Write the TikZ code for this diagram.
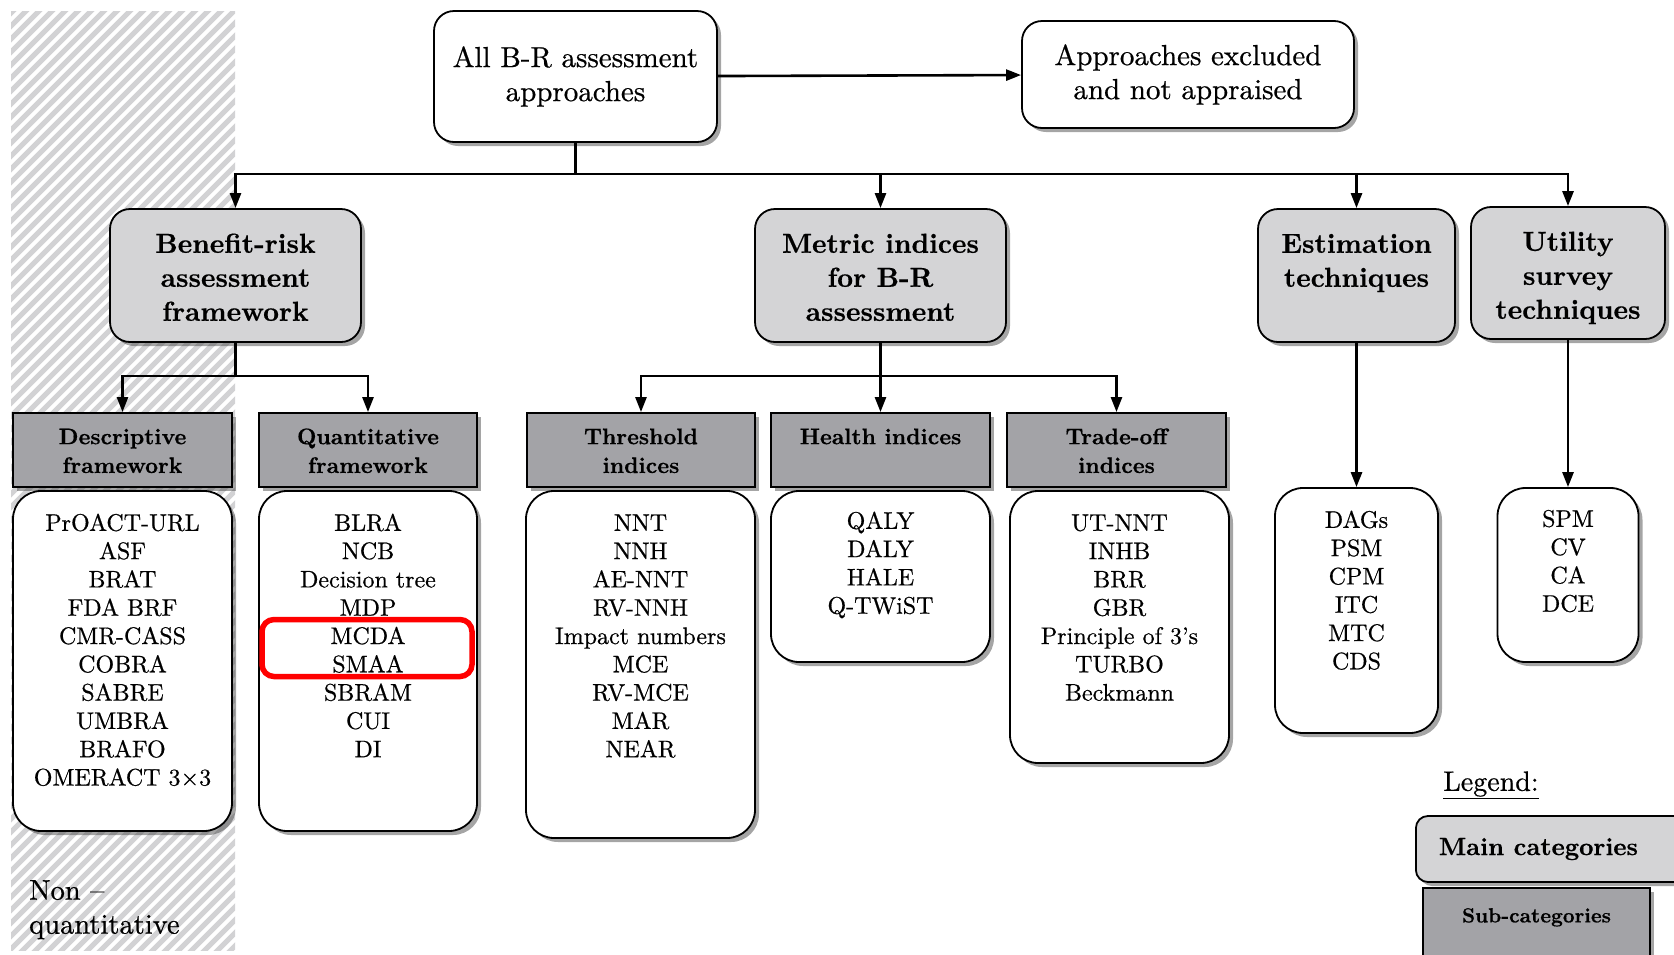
\documentclass[tikz,border=0pt]{standalone}
\usepackage{fontspec}
\setmainfont{lmroman10-regular.otf}[BoldFont=lmroman10-bold.otf,UprightFeatures={FakeBold=0.6},BoldFeatures={FakeBold=0.5}]
\usetikzlibrary{arrows.meta,shadows,calc}
\definecolor{mainfill}{RGB}{212,212,214}
\definecolor{subfill}{RGB}{163,163,167}
\definecolor{hatchgray}{RGB}{210,210,212}
\newcommand{\tbox}[4]{\parbox[c][#2pt][t]{#1pt}{\centering\vspace*{#3pt}\strut#4}}
\begin{document}
\begin{tikzpicture}[x=1pt,y=-1pt,
 shad/.style={drop shadow={shadow xshift=4pt,shadow yshift=-4pt,fill=black!70,opacity=.5}},
 topbox/.style={draw,line width=1.8pt,rounded corners=20pt,fill=white,shad,align=center,inner sep=0pt,font=\fontsize{29}{34}\selectfont},
 mainbox/.style={draw,line width=1.8pt,rounded corners=20pt,fill=mainfill,shad,inner sep=0pt,font=\bfseries\fontsize{27.5}{34}\selectfont},
 subbox/.style={draw,line width=1.8pt,fill=subfill,shad,inner sep=0pt,font=\bfseries\fontsize{22.5}{28.8}\selectfont},
 listbox/.style={draw,line width=1.8pt,rounded corners=28pt,fill=white,shad,inner sep=0pt,font=\fontsize{24}{28.3}\selectfont},
 conn/.style={line width=2.6pt},
 arr/.style={conn,-{Triangle[length=15pt,width=11pt]}},
 hatch/.style={line width=5pt,hatchgray},
]
\useasboundingbox (0,0) rectangle (1674,954);
% hatched non-quantitative region
\begin{scope}
\clip (11,11) rectangle (235,950);
\foreach \i in {-76,...,20} \draw[hatch] (\i*13,960) -- ++(1000,-1000);
\end{scope}
\node[anchor=north west,inner sep=0pt,align=left,font=\fontsize{28.5}{34}\selectfont] (nonq) at (29,880) {Non --\\quantitative};

% top
\node[topbox,minimum width=283pt,minimum height=131pt] (all) at (575.5,76.5) {All B-R assessment\\approaches};
\node[topbox,minimum width=332pt,minimum height=107pt] (excl) at (1188,74.5) {Approaches excluded\\and not appraised};

% main categories
\node[mainbox] (brf) at (235.5,275.5) {\tbox{251}{133}{20}{Benefit-risk\\assessment\\framework}};
\node[mainbox] (metric) at (880.5,275.5) {\tbox{251}{133}{20}{Metric indices\\for B-R\\assessment}};
\node[mainbox] (est) at (1356.5,275.5) {\tbox{197}{133}{20}{Estimation\\techniques}};
\node[mainbox] (util) at (1568,273) {\tbox{194}{132}{20}{Utility\\survey\\techniques}};

% sub-categories
\node[subbox] (desc) at (122.5,450) {\tbox{219}{74}{11}{Descriptive\\framework}};
\node[subbox] (quant) at (368,450) {\tbox{218}{74}{11}{Quantitative\\framework}};
\node[subbox] (thr) at (641,450) {\tbox{228}{74}{11}{Threshold\\indices}};
\node[subbox] (health) at (880.5,450) {\tbox{219}{74}{11}{Health indices}};
\node[subbox] (trade) at (1116.5,450) {\tbox{219}{74}{11}{Trade-off\\indices}};

% lists
\node[listbox] (descL) at (122.5,661) {\tbox{219}{340}{20}{PrOACT-URL\\ASF\\BRAT\\FDA BRF\\CMR-CASS\\COBRA\\SABRE\\UMBRA\\BRAFO\\OMERACT 3\texttimes 3}};
\node[listbox] (quantL) at (368,661) {\tbox{218}{340}{20}{BLRA\\NCB\\Decision tree\\MDP\\MCDA\\SMAA\\SBRAM\\CUI\\DI}};
\node[listbox] (thrL) at (640.5,664.5) {\tbox{229}{347}{20}{NNT\\NNH\\AE-NNT\\RV-NNH\\Impact numbers\\MCE\\RV-MCE\\MAR\\NEAR}};
\node[listbox] (healthL) at (880.5,576.5) {\tbox{219}{171}{18}{QALY\\DALY\\HALE\\Q-TWiST}};
\node[listbox] (tradeL) at (1119.5,627) {\tbox{219}{272}{20}{UT-NNT\\INHB\\BRR\\GBR\\Principle of 3's\\TURBO\\Beckmann}};
\node[listbox] (estL) at (1356.5,610.5) {\tbox{163}{245}{20}{DAGs\\PSM\\CPM\\ITC\\MTC\\CDS}};
\node[listbox] (utilL) at (1568,575) {\tbox{141}{174}{19}{SPM\\CV\\CA\\DCE}};

% highlight
\node[draw=red,line width=5.5pt,rounded corners=12pt,minimum width=210pt,minimum height=57pt,inner sep=0pt] (hl) at (367,648) {};

% legend
\node[font=\fontsize{28}{32}\selectfont,inner sep=0pt] (leg) at (1491,785) {\underline{Legend:}};
\node[draw,line width=1.8pt,rounded corners=12pt,fill=mainfill,shad,minimum width=285pt,minimum height=66pt,anchor=west,inner sep=0pt,font=\bfseries\fontsize{25}{28}\selectfont] (lmain) at (1415,849) {\makebox[285pt][l]{\hspace*{23pt}Main categories}};
\node[subbox,font=\bfseries\fontsize{20.5}{22}\selectfont] (lsub) at (1536.5,924) {\tbox{227}{72}{19}{Sub-categories}};

% connectors
\coordinate (jt) at (575.5,174);
\draw[conn] (all) -- (jt);
\draw[arr] (all) -- (excl);
\draw[arr] (jt) -| (brf);
\draw[arr] (jt) -| (util);
\draw[arr] (jt -| metric) -- (metric);
\draw[arr] (jt -| est) -- (est);

\coordinate (jb) at (235.5,376);
\draw[conn] (brf) -- (jb);
\draw[arr] (jb) -| (desc);
\draw[arr] (jb) -| (quant);

\coordinate (jm) at (880.5,376);
\draw[conn] (metric) -- (jm);
\draw[arr] (jm) -| (thr);
\draw[arr] (jm) -| (trade);
\draw[arr] (jm) -- (health);

\draw[arr] (est) -- (estL);
\draw[arr] (util) -- (utilL);
\end{tikzpicture}
\end{document}
